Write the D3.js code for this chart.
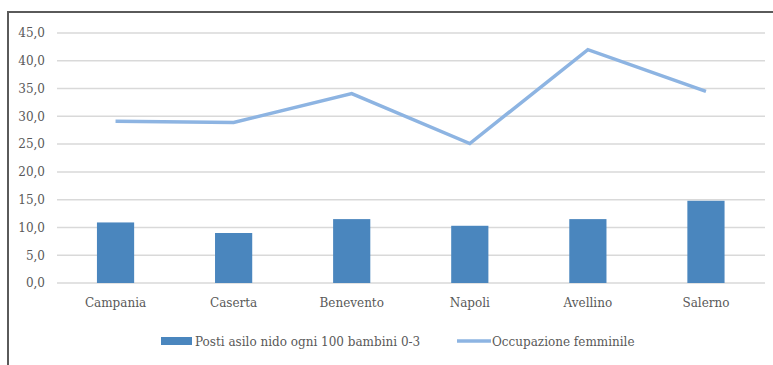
<!DOCTYPE html>
<html><head><meta charset="utf-8">
<script src="https://cdn.jsdelivr.net/npm/d3@7"></script>
<style>body{margin:0;background:#fff;} svg{display:block;}</style>
</head><body>
<svg id="c" width="773" height="365"></svg>
<script>
const categories = ["Campania","Caserta","Benevento","Napoli","Avellino","Salerno"];
const posti = [10.9, 9.0, 11.5, 10.3, 11.5, 14.8];
const occupazione = [29.1, 28.9, 34.1, 25.1, 42.0, 34.5];
const yTicks = [0,5,10,15,20,25,30,35,40,45];
const seriesNames = ["Posti asilo nido ogni 100 bambini 0-3","Occupazione femminile"];

const svg = d3.select("#c");
const font = "DejaVu Serif, serif";
const textColor = "#595959";
const fs = "12px";

svg.append("line").attr("x1",8).attr("x2",773).attr("y1",12).attr("y2",12).attr("stroke","#5a5a5a").attr("stroke-width",2);
svg.append("line").attr("x1",8).attr("x2",8).attr("y1",11).attr("y2",365).attr("stroke","#5a5a5a").attr("stroke-width",2);

const x = d3.scaleBand().domain(categories).range([56.5,765]).paddingInner(0.685).paddingOuter(0.3425);
const y = d3.scaleLinear().domain([0,45]).range([283,33]);

svg.append("g").selectAll("line").data(yTicks).join("line")
  .attr("x1",57).attr("x2",765).attr("y1",d=>y(d)).attr("y2",d=>y(d))
  .attr("stroke","#d9d9d9").attr("stroke-width",1.5);

const yAxis = d3.axisLeft(y).tickValues(yTicks).tickSize(0).tickPadding(0)
  .tickFormat(d=>d3.format(".1f")(d).replace(".",","));
const ga = svg.append("g").attr("transform","translate(45,0)").call(yAxis);
ga.attr("font-family",null).attr("font-size",null);
ga.select(".domain").remove();
ga.selectAll("text").style("font-family",font).style("font-size",fs).attr("fill",textColor);

svg.append("g").selectAll("rect").data(posti).join("rect")
  .attr("x",(d,i)=>x(categories[i])).attr("width",x.bandwidth())
  .attr("y",d=>y(d)).attr("height",d=>y(0)-y(d))
  .attr("fill","#4a86be");

const line = d3.line().x((d,i)=>x(categories[i])+x.bandwidth()/2).y(d=>y(d));
svg.append("path").datum(occupazione).attr("d",line)
  .attr("fill","none").attr("stroke","#8db4e2").attr("stroke-width",3.5);

const xAxis = d3.axisBottom(x).tickSize(0).tickPadding(0);
const gx = svg.append("g").attr("transform","translate(0,298)").call(xAxis);
gx.attr("font-family",null).attr("font-size",null);
gx.select(".domain").remove();
gx.selectAll("text").style("font-family",font).style("font-size",fs).attr("fill",textColor).attr("dy","0.71em");

const lg = svg.append("g");
lg.append("rect").attr("x",161).attr("y",337).attr("width",31).attr("height",8).attr("fill","#4a86be");
lg.append("text").attr("x",195).attr("y",345.5).text(seriesNames[0])
  .style("font-family",font).style("font-size",fs).attr("fill",textColor);
lg.append("line").attr("x1",457).attr("x2",491).attr("y1",341).attr("y2",341).attr("stroke","#8db4e2").attr("stroke-width",3.5);
lg.append("text").attr("x",492).attr("y",345.5).text(seriesNames[1])
  .style("font-family",font).style("font-size",fs).attr("fill",textColor);
</script>
</body></html>
